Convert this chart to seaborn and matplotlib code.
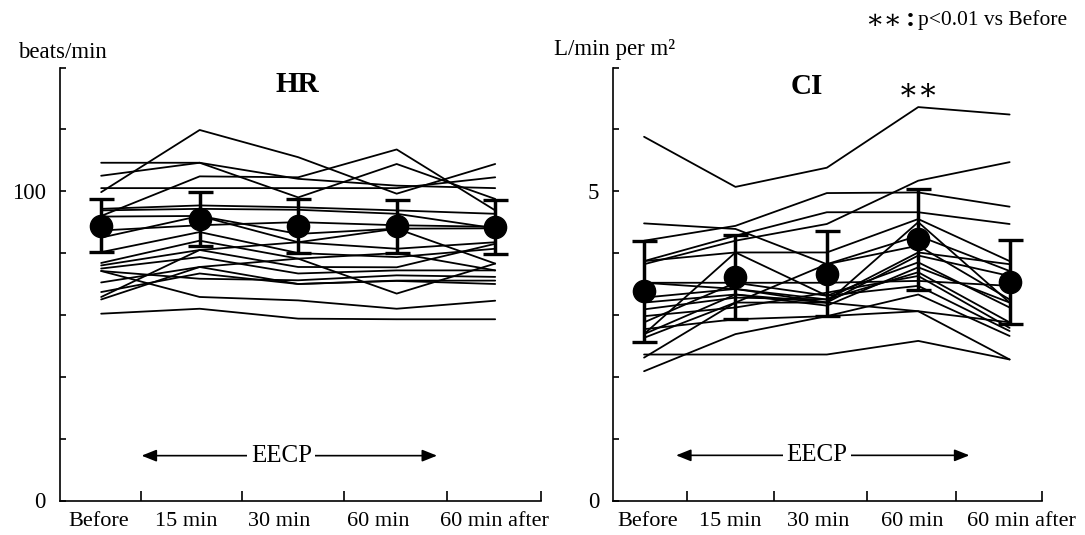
import numpy as np
import pandas as pd
import matplotlib
matplotlib.use("Agg")
import matplotlib.pyplot as plt
import seaborn as sns

# ---------------- data ----------------
times = ["Before", "15 min", "30 min", "60 min", "60 min after"]

# Heart rate (beats/min), one value per subject at each time point
hr_before = [109.2, 105.0, 99.7, 101.0, 92.0, 94.3, 93.8, 91.8, 87.3, 85.0, 80.3,
             76.8, 76.0, 75.0, 74.2, 70.5, 67.4, 65.8, 65.0, 60.4, 74.2]
hr_15 = [109.2, 109.2, 119.8, 101.0, 104.8, 95.4, 94.3, 92.0, 89.0, 92.0, 86.8,
         84.0, 81.0, 78.7, 71.7, 75.5, 73.4, 81.0, 75.5, 62.0, 65.8]
hr_30 = [104.0, 98.0, 111.0, 101.0, 104.5, 94.8, 94.0, 86.2, 90.0, 83.5, 80.0,
         78.2, 75.5, 73.4, 71.2, 70.0, 70.0, 83.5, 78.2, 58.8, 64.7]
hr_60 = [101.8, 108.8, 99.2, 101.0, 113.5, 93.8, 92.7, 87.9, 89.0, 81.4, 78.7,
         66.9, 75.4, 74.4, 72.8, 71.1, 71.0, 87.9, 80.0, 58.6, 62.0]
hr_after = [101.0, 97.5, 108.8, 104.5, 93.8, 92.7, 88.0, 88.0, 88.5, 83.5, 81.4,
            76.6, 83.0, 74.4, 72.3, 71.1, 70.0, 76.6, 74.4, 58.6, 64.6]
hr_mean = [88.9, 91.0, 88.8, 88.6, 88.5]
hr_sd = [8.6, 8.75, 8.7, 8.6, 8.7]

# Cardiac index (L/min per m2)
ci_before = [5.88, 4.48, 4.20, 3.87, 3.82, 3.87, 2.69, 2.31, 3.52, 3.28, 3.20,
             3.09, 2.98, 2.88, 2.77, 2.63, 2.36, 2.09, 3.52, 2.69]
ci_15 = [5.07, 4.39, 4.44, 4.28, 4.20, 4.01, 4.01, 3.20, 3.52, 3.42, 3.33,
         3.28, 3.12, 3.52, 2.93, 3.20, 2.36, 2.69, 3.42, 3.33]
ci_30 = [5.38, 3.82, 4.97, 4.66, 4.47, 4.01, 3.31, 3.82, 3.52, 3.20, 3.15,
         3.25, 3.36, 3.31, 2.98, 3.20, 2.36, 2.98, 3.25, 3.20]
ci_60 = [6.36, 4.28, 4.98, 4.66, 5.17, 4.55, 3.85, 4.12, 3.55, 3.96, 3.77,
         3.69, 3.63, 3.47, 3.33, 3.06, 2.58, 3.06, 4.01, 4.50]
ci_after = [6.24, 3.71, 4.75, 4.47, 5.47, 3.87, 3.12, 3.25, 3.47, 3.63, 3.20,
            2.88, 2.79, 2.74, 2.66, 2.28, 2.28, 2.88, 3.82, 3.20]
ci_mean = [3.38, 3.61, 3.665, 4.22, 3.53]
ci_sd = [0.81, 0.68, 0.685, 0.82, 0.68]


def long_form(cols):
    rows = []
    for t, vals in enumerate(cols):
        for s, v in enumerate(vals):
            rows.append({"subject": s, "x": t, "time": times[t], "value": v})
    return pd.DataFrame(rows)


hr_df = long_form([hr_before, hr_15, hr_30, hr_60, hr_after])
ci_df = long_form([ci_before, ci_15, ci_30, ci_60, ci_after])

# ---------------- style ----------------
sns.set_theme(style="ticks")
SERIF = ["Liberation Serif", "DejaVu Serif"]
plt.rcParams["font.family"] = SERIF
plt.rcParams["axes.linewidth"] = 1.2
plt.rcParams["axes.edgecolor"] = "black"
plt.rcParams["text.color"] = "black"
plt.rcParams["xtick.color"] = "black"
plt.rcParams["ytick.color"] = "black"

W, H = 1085, 535
fig = plt.figure(figsize=(W / 100, H / 100), dpi=100)


def fx(px):
    return px / W


def fy(py):
    return 1 - py / H


ax1 = fig.add_axes([fx(59.8), fy(500.5), fx(540.5 - 59.8), (500.5 - 67.5) / H])
ax2 = fig.add_axes([fx(613.0), fy(500.5), fx(1041.6 - 613.0), (500.5 - 67.5) / H])


def draw_panel(ax, df, means, sds, xlim, ylim, yticks, ylabels, sep_ticks, label_pos,
               arrow_l, arrow_r, eecp_x, eecp_y):
    sns.lineplot(data=df, x="x", y="value", units="subject", estimator=None,
                 color="black", lw=1.3, ax=ax, legend=False, sort=False)
    ax.errorbar(range(len(times)), means, yerr=sds, fmt="o", color="black",
                ms=16, elinewidth=2.5, capsize=9, capthick=2.4, zorder=6)
    ax.set_xlim(*xlim)
    ax.set_ylim(*ylim)
    ax.set_xlabel("")
    ax.set_ylabel("")
    ax.set_yticks(yticks)
    ax.set_yticklabels(ylabels, fontsize=16.5)
    ax.tick_params(axis="y", direction="in", length=4.5, width=1.2, pad=10)
    ax.set_xticks(label_pos)
    ax.set_xticklabels(times, fontsize=16)
    ax.tick_params(axis="x", which="major", length=0, pad=8)
    ax.set_xticks(sep_ticks, minor=True)
    ax.tick_params(axis="x", which="minor", direction="in", length=7.5, width=1.2)
    sns.despine(ax=ax)
    ax.spines["left"].set_bounds(ylim[0], ylim[1])
    # EECP arrow
    ap = dict(arrowstyle="-|>,head_length=0.75,head_width=0.3", color="black",
              lw=1.2, shrinkA=0, shrinkB=0)
    ax.annotate("", xy=(arrow_l, eecp_y), xytext=(eecp_x, eecp_y), arrowprops=ap, zorder=3)
    ax.annotate("", xy=(arrow_r, eecp_y), xytext=(eecp_x, eecp_y), arrowprops=ap, zorder=3)
    ax.text(eecp_x, eecp_y, "EECP", ha="center", va="center", fontsize=18, zorder=7,
            bbox=dict(facecolor="white", edgecolor="none", pad=2.5))


draw_panel(ax1, hr_df, hr_mean, hr_sd, (-0.42, 4.46), (0, 140),
           list(range(0, 141, 20)), ["0", "", "", "", "", "100", "", ""],
           [0.40, 1.43, 2.47, 3.51, 4.46], [-0.03, 0.86, 1.81, 2.81, 3.99],
           0.41, 3.41, 1.83, 14.5)
draw_panel(ax2, ci_df, ci_mean, ci_sd, (-0.34, 4.35), (0, 7),
           list(range(0, 8)), ["0", "", "", "", "", "5", "", ""],
           [0.465, 1.42, 2.44, 3.41, 4.35], [0.04, 0.94, 1.90, 2.93, 4.13],
           0.35, 3.56, 1.89, 0.73)

# significance mark over CI at 60 min
ax2.text(3, 6.62, "\u2217\u2217", ha="center", va="center", fontsize=22,
         family=["DejaVu Serif", "DejaVu Sans"], zorder=8)

# panel titles
fig.text(fx(297), fy(85), "HR", ha="center", va="center", fontsize=21, fontweight="bold")
fig.text(fx(807), fy(87), "CI", ha="center", va="center", fontsize=21, fontweight="bold")

# unit labels
fig.text(fx(18), fy(53), "beats/min", ha="left", va="center", fontsize=16.5)
fig.text(fx(554), fy(50), "L/min per m\u00b2", ha="left", va="center", fontsize=16.5)

# legend note
fig.text(fx(865), fy(20), "\u2217\u2217", ha="left", va="center", fontsize=19.5,
         family=["DejaVu Serif", "DejaVu Sans"])
fig.text(fx(910.5), fy(19), ":", ha="center", va="center", fontsize=20,
         fontweight="bold")
fig.text(fx(918), fy(20), "p<0.01 vs Before", ha="left", va="center", fontsize=15.5)

fig.savefig("out.png", dpi=100, facecolor="white")
